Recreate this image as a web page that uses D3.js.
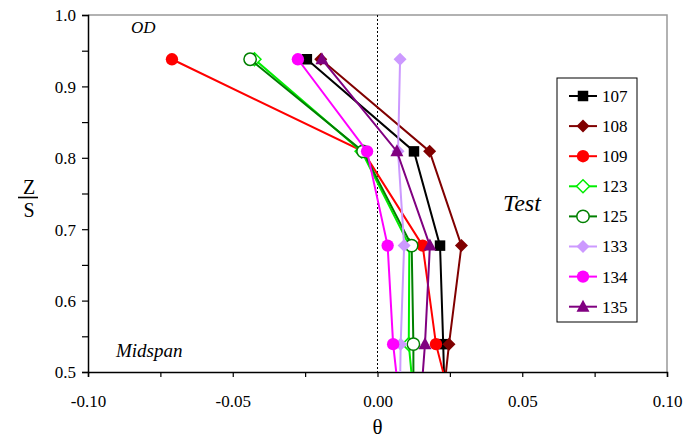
<!DOCTYPE html>
<html>
<head>
<meta charset="utf-8">
<script src="https://cdn.jsdelivr.net/npm/d3@7"></script>
<style>
  body { margin: 0; background: #fff; }
</style>
</head>
<body>
<div id="chart"></div>
<script>
// Run ids (legend order) and the spanwise stations
const runs = ["107", "108", "109", "123", "125", "133", "134", "135"];
const zLevels = [0.938, 0.809, 0.677, 0.539, 0.40];

// theta at each station, one array per run
const theta107 = [-0.0244, 0.0126, 0.0216, 0.0227, 0.0236];
const theta108 = [-0.0196, 0.0180, 0.0290, 0.0247, 0.0210];
const theta109 = [-0.0710, -0.0050, 0.0156, 0.0202, 0.0290];
const theta123 = [-0.0425, -0.0055, 0.0110, 0.0108, 0.0140];
const theta125 = [-0.0440, -0.0050, 0.0118, 0.0124, 0.0124];
const theta133 = [0.0078, 0.0071, 0.0092, 0.0080, 0.0075];
const theta134 = [-0.0275, -0.0036, 0.0035, 0.0054, 0.0092];
const theta135 = [-0.0192, 0.0067, 0.0181, 0.0164, 0.0138];

const xTicks = [-0.10, -0.05, 0.00, 0.05, 0.10];
const yTicks = [0.5, 0.6, 0.7, 0.8, 0.9, 1.0];

const style = {
  "107": { color: "#000000", shape: "square", fill: true },
  "108": { color: "#800000", shape: "diamond", fill: true },
  "109": { color: "#ff0000", shape: "circle", fill: true },
  "123": { color: "#00ee00", shape: "diamond", fill: false },
  "125": { color: "#008000", shape: "circle", fill: false },
  "133": { color: "#cc99ff", shape: "diamond", fill: true },
  "134": { color: "#ff00ff", shape: "circle", fill: true },
  "135": { color: "#800080", shape: "triangle", fill: true }
};
const values = {
  "107": theta107, "108": theta108, "109": theta109, "123": theta123,
  "125": theta125, "133": theta133, "134": theta134, "135": theta135
};

const serif = "'Liberation Serif', 'DejaVu Serif', serif";
const width = 700, height = 439;
const margin = { top: 15, right: 33, bottom: 67, left: 88 };

const svg = d3.select("#chart").append("svg")
  .attr("width", width).attr("height", height)
  .style("font-family", serif);

const x = d3.scaleLinear().domain([-0.1, 0.1]).range([margin.left, width - margin.right]);
const y = d3.scaleLinear().domain([0.5, 1.0]).range([height - margin.bottom, margin.top]);

// clip for the plotting area
svg.append("clipPath").attr("id", "plot")
  .append("rect")
  .attr("x", margin.left).attr("y", margin.top)
  .attr("width", width - margin.left - margin.right)
  .attr("height", height - margin.top - margin.bottom);

// frame (top and right are grey)
svg.append("path")
  .attr("d", `M${x(-0.1)},${y(1)}H${x(0.1)}V${y(0.5)}`)
  .attr("fill", "none").attr("stroke", "#999").attr("stroke-width", 1.5);

// zero line
svg.append("line")
  .attr("x1", x(0)).attr("x2", x(0))
  .attr("y1", y(1)).attr("y2", y(0.5))
  .attr("stroke", "#000").attr("stroke-dasharray", "2,2");

// axes
const fmtX = d => d3.format(".2f")(d).replace("−", "-");
const xAxis = d3.axisBottom(x)
  .tickValues(d3.range(-0.1, 0.1001, 0.025))
  .tickSize(5)
  .tickFormat(d => (xTicks.some(t => Math.abs(t - d) < 1e-9) ? fmtX(d) : ""));
const gx = svg.append("g").attr("transform", `translate(0,${y(0.5)})`).call(xAxis);

const yAxis = d3.axisLeft(y)
  .tickValues(d3.range(0.5, 1.0001, 0.05))
  .tickSize(6)
  .tickFormat(d => (yTicks.some(t => Math.abs(t - d) < 1e-9) ? d3.format(".1f")(d) : ""));
const gy = svg.append("g").attr("transform", `translate(${x(-0.1)},0)`).call(yAxis);

[gx, gy].forEach(g => {
  g.attr("font-family", null).attr("font-size", null);
  g.select(".domain").attr("stroke", "#000").attr("stroke-width", 1.5);
  g.selectAll(".tick line").attr("stroke", "#000").attr("stroke-width", 1.2);
  g.selectAll(".tick text")
    .attr("fill", "#000")
    .style("font-family", serif)
    .style("font-size", "17px");
});
gx.selectAll(".tick text").attr("dy", "0").attr("y", 35);
gy.selectAll(".tick text").attr("x", -12).attr("dy", "0.35em");

// text helper
function label(px, py, str, size, italic, anchor) {
  return svg.append("text")
    .attr("x", px).attr("y", py)
    .style("font-family", serif)
    .style("font-size", size + "px")
    .style("font-style", italic ? "italic" : "normal")
    .attr("text-anchor", anchor || "start")
    .text(str);
}

// axis titles
label(x(0), 434, "θ", 21, false, "middle");
label(29, 194, "Z", 20, false, "middle");
svg.append("line").attr("x1", 18).attr("x2", 38).attr("y1", 197.5).attr("y2", 197.5)
  .attr("stroke", "#000").attr("stroke-width", 1.6);
label(29, 217, "S", 20, false, "middle");

// annotations
label(131, 33, "OD", 17, true);
label(503, 211, "Test", 24, true);
label(116, 357, "Midspan", 19, true);

// marker shapes
function markerPath(shape) {
  if (shape === "square") return d3.symbol(d3.symbolSquare, 110)();
  if (shape === "diamond") return "M0,-6.5L6.5,0L0,6.5L-6.5,0Z";
  if (shape === "triangle") return "M0,-7L6.5,5L-6.5,5Z";
  return d3.symbol(d3.symbolCircle, 120)();
}

const line = d3.line().x(d => x(d.t)).y(d => y(d.z));
const plot = svg.append("g").attr("clip-path", "url(#plot)");

runs.forEach(run => {
  const s = style[run];
  const pts = zLevels.map((z, i) => ({ z, t: values[run][i] }));
  const g = plot.append("g");
  g.append("path")
    .datum(pts)
    .attr("d", line)
    .attr("fill", "none")
    .attr("stroke", s.color)
    .attr("stroke-width", 2);
  g.selectAll("path.mk")
    .data(pts.filter(d => d.z >= 0.5))
    .enter().append("path")
    .attr("class", "mk")
    .attr("transform", d => `translate(${x(d.t)},${y(d.z)})`)
    .attr("d", markerPath(s.shape))
    .attr("fill", s.fill ? s.color : "#fff")
    .attr("stroke", s.color)
    .attr("stroke-width", s.fill ? 0 : 1.5);
});

// legend
const legend = svg.append("g").attr("transform", "translate(557,78)");
legend.append("rect")
  .attr("width", 80).attr("height", 244)
  .attr("fill", "#fff").attr("stroke", "#000").attr("stroke-width", 1);

runs.forEach((run, i) => {
  const s = style[run];
  const item = legend.append("g").attr("transform", `translate(0,${18 + i * 30.1})`);
  item.append("line")
    .attr("x1", 12).attr("x2", 40)
    .attr("stroke", s.color).attr("stroke-width", 2);
  item.append("path")
    .attr("transform", "translate(26,0)")
    .attr("d", markerPath(s.shape))
    .attr("fill", s.fill ? s.color : "#fff")
    .attr("stroke", s.color)
    .attr("stroke-width", s.fill ? 0 : 1.5);
  item.append("text")
    .attr("x", 45).attr("dy", "0.35em")
    .style("font-family", serif)
    .style("font-size", "17px")
    .text(run);
});
</script>
</body>
</html>
